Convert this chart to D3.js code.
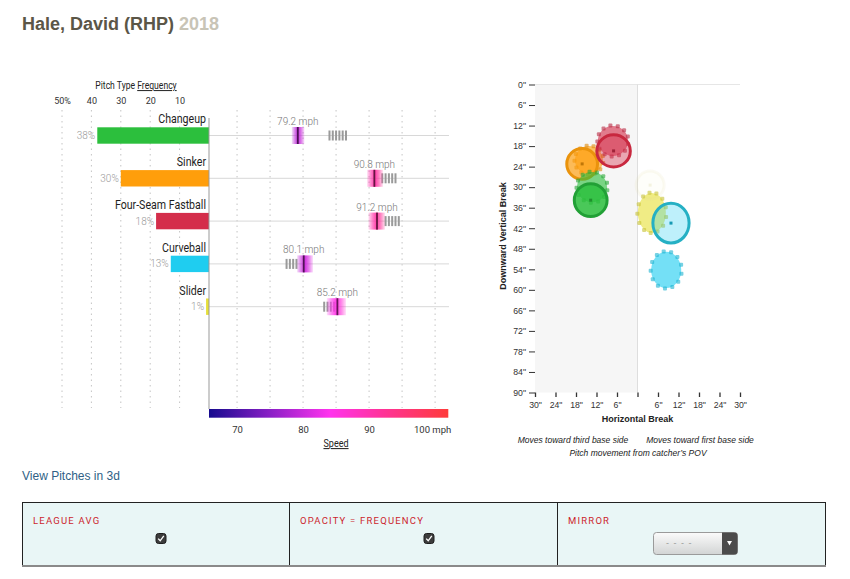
<!DOCTYPE html>
<html><head><meta charset="utf-8">
<script src="https://cdn.jsdelivr.net/npm/d3@7"></script>
<style>
body{margin:0;background:#fff;}
svg{display:block;}
</style></head><body>
<svg id="c" width="850" height="579"></svg>
<script>
// ---------------- DATA ----------------
const pitchTypes = ["Changeup","Sinker","Four-Seam Fastball","Curveball","Slider"];
const pitchColors = ["#2cbf3d","#ff9e0b","#d42e4b","#1fcdf0","#e6e03a"];
const strokeColors = ["#22a036","#ea930c","#c8283f","#25b0c4","#dcd6a0"];
const frequency = [38,30,18,13,1];
const avgSpeed = [79.2,90.8,91.2,80.1,85.2];
const speedLo = [78.3,89.7,89.9,79.1,83.6];
const speedHi = [80.2,92.1,92.4,81.5,86.5];
const leagueSpeeds = [
  [84.0,84.5,85.0,85.5,86.0,86.5],
  [92.0,92.5,93.0,93.5,94.0],
  [92.5,93.0,93.5,94.0,94.5],
  [77.5,78.0,78.5,79.0],
  [83.2,83.7,84.2,84.7]
];
const freqTicks = [10,20,30,40,50];
const freqTickLabels = ["10","20","30","40","50%"];
const speedGrid = [70,75,80,85,90,95,100];
const speedAxisTicks = [70,80,90,100];
const speedAxisLabels = ["70","80","90","100 mph"];
const colorSpeeds = [65.75,75,84,92,102];
const colorStops = ["#160a8e","#8a1fc6","#ff33ee","#ff3399","#ff3b3b"];

// movement (inches): horizontal break (neg = third base side), downward vertical break
const playerH = [-13.7,-16.2,-7.0,9.8,3.7];
const playerV = [33.8,23.2,19.4,40.5,29.4];
const playerRX = [4.8,4.5,4.9,5.3,4.1];
const playerRY = [4.8,4.5,4.7,5.8,4.1];
const leagueH = [-13.3,-14.2,-7.2,8.4,4.2];
const leagueV = [30.0,22.1,16.5,54.2,37.5];
const leagueRX = [4.4,4.1,4.4,4.4,4.1];
const leagueRY = [4.4,4.1,4.4,5.3,5.8];
const drawOrder = ["Sinker","Four-Seam Fastball","Changeup","Slider","Curveball"];
const hTicks = [-30,-24,-18,-12,-6,0,6,12,18,24,30];
const vTicks = [0,6,12,18,24,30,36,42,48,54,60,66,72,78,84,90];

// ---------------- DRAW ----------------
const svg = d3.select("#c");
const defs = svg.append("defs");
const LF = "Roboto, 'Noto Sans', sans-serif";
const RF = "'Liberation Sans', Arial, sans-serif";

// Title
const title = svg.append("text").attr("x",22).attr("y",30)
  .style("font-family",RF).style("font-weight","bold").style("font-size","18px");
title.append("tspan").attr("fill","#5b5647").text("Hale, David (RHP)");
title.append("tspan").attr("fill","#c8c4b6").text(" 2018");

// ---- Left chart ----
const freqX = d3.scaleLinear().domain([0,50]).range([209,62]);
const speedX = d3.scaleLinear().domain([65.75,102]).range([209,448.3]);
const rowY = d3.scaleBand().domain(pitchTypes).range([114,328]);
const speedColor = d3.scaleLinear().domain(colorSpeeds).range(colorStops).interpolate(d3.interpolateRgb);

const left = svg.append("g");

const ptf = left.append("text").attr("transform","translate(136,89) scale(0.86,1)")
  .attr("text-anchor","middle").style("font-family",LF).style("font-size","10px").attr("fill","#222");
ptf.append("tspan").text("Pitch Type ");
ptf.append("tspan").attr("text-decoration","underline").text("Frequency");

const fa = left.append("g").attr("transform","translate(0,108)")
  .call(d3.axisTop(freqX).tickValues(freqTicks).tickSize(0).tickPadding(4)
    .tickFormat((d,i)=>freqTickLabels[i]));
fa.select(".domain").remove();
fa.selectAll("text").style("font-family",LF).style("font-size","9px").attr("fill","#333");

left.selectAll(".fg").data(freqTicks).join("line")
  .attr("x1",d=>freqX(d)).attr("x2",d=>freqX(d)).attr("y1",110).attr("y2",408)
  .attr("stroke","#c4c4c4").attr("stroke-dasharray","1.5,4");
left.selectAll(".sg").data(speedGrid).join("line")
  .attr("x1",d=>speedX(d)).attr("x2",d=>speedX(d)).attr("y1",110).attr("y2",408)
  .attr("stroke","#c4c4c4").attr("stroke-dasharray","1.5,4");

left.selectAll(".rl").data(pitchTypes).join("line")
  .attr("x1",209).attr("x2",449).attr("y1",d=>rowY(d)+21.5).attr("y2",d=>rowY(d)+21.5)
  .attr("stroke","#d8d8d8");

left.selectAll(".bar").data(pitchTypes).join("rect")
  .attr("x",(d,i)=>freqX(frequency[i])).attr("width",(d,i)=>freqX(0)-freqX(frequency[i]))
  .attr("y",d=>rowY(d)+13.3).attr("height",16.4).attr("fill",(d,i)=>pitchColors[i]);

left.selectAll(".pl").data(pitchTypes).join("text")
  .attr("transform",d=>`translate(206,${rowY(d)+9.4}) scale(0.87,1)`)
  .attr("text-anchor","end").style("font-family",LF).style("font-size","12.2px").attr("fill","#1e1e1e")
  .text(d=>d);
left.selectAll(".pp").data(pitchTypes).join("text")
  .attr("x",(d,i)=>freqX(frequency[i])-2).attr("y",d=>rowY(d)+25)
  .attr("text-anchor","end").style("font-family",LF).style("font-weight","300").style("font-size","10px")
  .attr("fill","#9a9a9a").text((d,i)=>frequency[i]+"%");

left.append("line").attr("x1",209).attr("x2",209).attr("y1",118).attr("y2",409).attr("stroke","#999");

pitchTypes.forEach((p,i)=>{
  const cy = rowY(p)+21.5;
  left.selectAll(null).data(leagueSpeeds[i]).join("rect")
    .attr("x",d=>speedX(d)-1).attr("width",2).attr("y",cy-5).attr("height",10).attr("fill","#9a9a9a");
  const gid = "band"+i;
  const gr = defs.append("linearGradient").attr("id",gid).attr("x1","0").attr("x2","1").attr("y1","0").attr("y2","0");
  const ops = [0.15,0.6,0.95,0.6,0.15];
  ops.forEach((o,k)=>{
    const t = k/4;
    gr.append("stop").attr("offset",t).attr("stop-color",speedColor(speedLo[i]+t*(speedHi[i]-speedLo[i]))).attr("stop-opacity",o);
  });
  left.append("rect").attr("x",speedX(speedLo[i])).attr("width",speedX(speedHi[i])-speedX(speedLo[i]))
    .attr("y",cy-8.5).attr("height",17).attr("fill",`url(#${gid})`);
  left.append("rect").attr("x",speedX(avgSpeed[i])-0.9).attr("width",1.8).attr("y",cy-8.5).attr("height",17)
    .attr("fill",d3.color(speedColor(avgSpeed[i])).darker(2.6));
  left.append("text").attr("x",speedX(avgSpeed[i])).attr("y",cy-10.5).attr("text-anchor","middle")
    .style("font-family",LF).style("font-weight","300").style("font-size","10px").attr("fill","#777")
    .text(avgSpeed[i].toFixed(1)+" mph");
});

const cb = defs.append("linearGradient").attr("id","cbar").attr("x1","0").attr("x2","1").attr("y1","0").attr("y2","0");
colorSpeeds.forEach((s,k)=>{
  cb.append("stop").attr("offset",(s-colorSpeeds[0])/(colorSpeeds[colorSpeeds.length-1]-colorSpeeds[0])).attr("stop-color",colorStops[k]);
});
left.append("rect").attr("x",speedX(65.75)).attr("width",speedX(102)-speedX(65.75)).attr("y",409).attr("height",8.7).attr("fill","url(#cbar)");
const sa = left.append("g").attr("transform","translate(0,418)")
  .call(d3.axisBottom(speedX).tickValues(speedAxisTicks).tickSize(0).tickPadding(8.3)
    .tickFormat((d,i)=>speedAxisLabels[i]));
sa.select(".domain").remove();
sa.selectAll("text").style("font-family",LF).style("font-size","9.5px").attr("fill","#333")
  .attr("dx",(d,i)=>i===3?"-3":"0");
left.append("text").attr("transform","translate(336,447) scale(0.86,1)").attr("text-anchor","middle")
  .attr("text-decoration","underline").style("font-family",LF).style("font-size","10.5px").attr("fill","#222").text("Speed");

// ---- Right chart ----
const hx = d3.scaleLinear().domain([-30,30]).range([535,740]);
const vy = d3.scaleLinear().domain([0,90]).range([84.5,392.5]);
const right = svg.append("g");
right.append("rect").attr("x",hx(-30)).attr("y",vy(0)).attr("width",hx(0)-hx(-30)).attr("height",vy(90)-vy(0)).attr("fill","#f6f6f6");
right.append("line").attr("x1",hx(-30)).attr("x2",hx(30)).attr("y1",vy(0)).attr("y2",vy(0)).attr("stroke","#e6e6e6");
right.append("line").attr("x1",hx(0)).attr("x2",hx(0)).attr("y1",vy(0)).attr("y2",vy(90)).attr("stroke","#dedede");

const ya = right.append("g").attr("transform",`translate(${hx(-30)},0)`)
  .call(d3.axisLeft(vy).tickValues(vTicks).tickSize(6).tickPadding(3).tickFormat(d=>d+'"'));
ya.select(".domain").remove();
ya.selectAll("line").attr("stroke","#333");
ya.selectAll("text").style("font-family",RF).style("font-size","8.7px").attr("fill","#333");
const xa = right.append("g").attr("transform",`translate(0,${vy(90)})`)
  .call(d3.axisBottom(hx).tickValues(hTicks).tickSize(4.5).tickPadding(5).tickFormat(d=>d===0?"":Math.abs(d)+'"'));
xa.select(".domain").remove();
xa.selectAll("line").attr("stroke","#333").attr("stroke-width",1.3);
xa.selectAll("text").style("font-family",RF).style("font-size","8.7px").attr("fill","#333");

right.append("text").attr("x",hx(0)).attr("y",422).attr("text-anchor","middle")
  .style("font-family",RF).style("font-weight","bold").style("font-size","9px").attr("fill","#222").text("Horizontal Break");
right.append("text").attr("transform","translate(506,236) rotate(-90)").attr("text-anchor","middle")
  .style("font-family",RF).style("font-weight","bold").style("font-size","9px").attr("fill","#222").text("Downward Vertical Break");
const cap = [["Moves toward third base side",573,443.3],["Moves toward first base side",700,443.3],["Pitch movement from catcher\u2019s POV",638,455.7]];
right.selectAll(".cap").data(cap).join("text").attr("x",d=>d[1]).attr("y",d=>d[2]).attr("text-anchor","middle")
  .style("font-family",RF).style("font-style","italic").style("font-size","8.5px").attr("fill","#222").text(d=>d[0]);

const pxPerIn = (hx(30)-hx(-30))/60;
const pyPerIn = (vy(90)-vy(0))/90;
drawOrder.forEach(name=>{
  const i = pitchTypes.indexOf(name);
  const col = pitchColors[i];
  const gx = hx(leagueH[i]), gy = vy(leagueV[i]);
  const grx = leagueRX[i]*pxPerIn, gry = leagueRY[i]*pyPerIn;
  const g = right.append("g");
  g.append("ellipse").attr("cx",gx).attr("cy",gy).attr("rx",grx).attr("ry",gry).attr("fill",col).attr("fill-opacity",0.62);
  const n = 13;
  const teeth = d3.range(n).map(k=>2*Math.PI*k/n + 0.2);
  g.selectAll(null).data(teeth).join("rect")
    .attr("x",a=>gx+(grx+0.5)*Math.cos(a)-2).attr("y",a=>gy+(gry+0.5)*Math.sin(a)-2).attr("width",4).attr("height",4).attr("rx",1)
    .attr("fill",d3.color(col).darker(0.4)).attr("fill-opacity",0.6);
  const cx = hx(playerH[i]), cy = vy(playerV[i]);
  const c = right.append("g");
  c.append("ellipse").attr("cx",cx).attr("cy",cy).attr("rx",playerRX[i]*pxPerIn).attr("ry",playerRY[i]*pyPerIn)
    .attr("fill",col).attr("fill-opacity",frequency[i]/38*0.85)
    .attr("stroke",strokeColors[i]).attr("stroke-width",3).attr("stroke-opacity",Math.min(1,frequency[i]/8));
  c.append("rect").attr("x",cx-1.5).attr("y",cy-1.5).attr("width",3).attr("height",3)
    .attr("fill",d3.color(col).darker(0.8)).attr("fill-opacity",Math.min(1,frequency[i]/8));
});

// ---- Bottom controls ----
svg.append("text").attr("x",22).attr("y",480).style("font-family",RF).style("font-size","12px")
  .attr("fill","#2f5f86").text("View Pitches in 3d");
const panel = svg.append("g");
panel.append("rect").attr("x",22.5).attr("y",502.5).attr("width",803).attr("height",63).attr("fill","#e9f6f6").attr("stroke","#222");
[289.5,557.5].forEach(x=>panel.append("line").attr("x1",x).attr("x2",x).attr("y1",502.5).attr("y2",565.5).attr("stroke","#222"));
panel.append("line").attr("x1",22).attr("x2",826).attr("y1",566).attr("y2",566).attr("stroke","#8a8a8a").attr("stroke-width",2);
const ctl = [["LEAGUE AVG",33],["OPACITY = FREQUENCY",300],["MIRROR",568]];
panel.selectAll(".cl").data(ctl).join("text").attr("x",d=>d[1]).attr("y",524)
  .style("font-family",LF).style("font-size","9.5px").style("letter-spacing","1.2px").attr("fill","#cc1f2d").text(d=>d[0]);
[161,429].forEach(x=>{
  panel.append("rect").attr("x",x-5).attr("y",533.5).attr("width",10).attr("height",10).attr("rx",2.5)
    .attr("fill","#3c3c3c").attr("stroke","#1e1e1e");
  panel.append("path").attr("d",`M${x-2.8},${538.6} L${x-0.8},${540.8} L${x+2.8},${535.8}`)
    .attr("fill","none").attr("stroke","#fff").attr("stroke-width",1.3);
});
const dg = defs.append("linearGradient").attr("id","dd").attr("x1","0").attr("x2","0").attr("y1","0").attr("y2","1");
dg.append("stop").attr("offset",0).attr("stop-color","#fbfbfb");
dg.append("stop").attr("offset",1).attr("stop-color","#d2d4d4");
panel.append("rect").attr("x",653.5).attr("y",532.5).attr("width",84).attr("height",22).attr("rx",3)
  .attr("fill","url(#dd)").attr("stroke","#9a9a9a");
panel.append("path").attr("d","M722,532.5 H734.5 Q737.5,532.5 737.5,535.5 V551.5 Q737.5,554.5 734.5,554.5 H722 Z").attr("fill","#4b4b4b");
panel.append("path").attr("d","M727,541 L732,541 L729.5,545.5 Z").attr("fill","#fff");
panel.append("text").attr("x",666).attr("y",546).style("font-family",RF).style("font-size","9px")
  .style("letter-spacing","1px").attr("fill","#9a9a9a").text("- - - -");
</script>
</body></html>
